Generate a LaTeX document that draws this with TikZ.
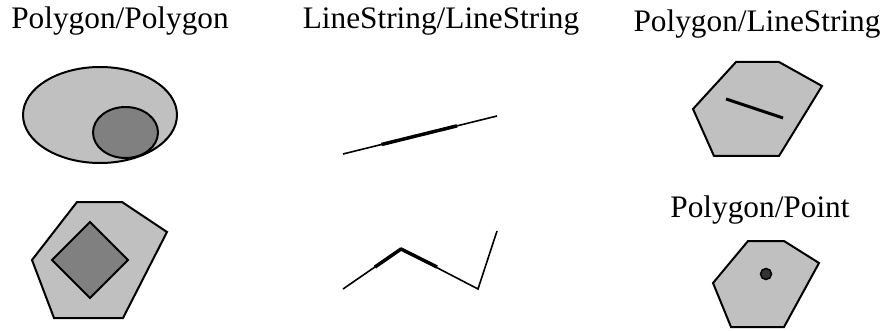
\documentclass[tikz,border=0pt]{standalone}
\usepackage{fontspec}
\setmainfont{Liberation Serif}
\usetikzlibrary{calc}
\definecolor{lightfill}{HTML}{C0C0C0}
\definecolor{darkfill}{HTML}{808080}
\definecolor{pointfill}{HTML}{333333}
\begin{document}
\begin{tikzpicture}[x=1pt,y=-1pt,
  title/.style={anchor=base,inner sep=0pt,font=\fontsize{31.3}{36}\selectfont},
  outer/.style={draw=black,fill=lightfill,line width=2pt,line join=miter},
  inner/.style={draw=black,fill=darkfill,line width=2pt},
  thinline/.style={draw=black,line width=1.6pt,line join=miter},
  thickseg/.style={draw=black,line width=3.5pt},
]
\useasboundingbox (0,0) rectangle (890,331);
% titles
\node[title] (t1) at (120,29) {Polygon/Polygon};
\node[title] (t2) at (441,29) {LineString/LineString};
\node[title] (t3) at (757,32) {Polygon/LineString};
\node[title] (t4) at (760,217) {Polygon/Point};

% Polygon/Polygon: ellipses
\draw[outer] (100,115) ellipse [x radius=77, y radius=48];
\draw[inner] (125.5,132.5) ellipse [x radius=32.5, y radius=25.5];

% Polygon/Polygon: polygon with diamond
\draw[outer] (77,202) -- (122,202) -- (167,232) -- (123,318) -- (54,318) -- (32,260) -- cycle;
\draw[inner] (90,222) -- (128,260) -- (90,298) -- (52,260) -- cycle;

% LineString/LineString: overlapping straight lines
\coordinate (la) at (343,154);
\coordinate (lb) at (497,116);
\draw[thinline] (la) -- (lb);
\draw[thickseg] ($(la)!0.25!(lb)$) -- ($(la)!0.74!(lb)$);

% LineString/LineString: bent lines
\coordinate (ba) at (343,289);
\coordinate (bb) at (401,249);
\coordinate (bc) at (478,289);
\coordinate (bd) at (497,231);
\draw[thinline] (ba) -- (bb) -- (bc) -- (bd);
\draw[thickseg,line join=round] (375,267) -- (bb) -- (437,267);

% Polygon/LineString
\draw[outer] (736,62) -- (779,62) -- (822,86) -- (779,156) -- (714,156) -- (693,109) -- cycle;
\coordinate (pl1) at (726,99);
\coordinate (pl2) at (783,118);
\draw[black,line width=3pt] (pl1) -- (pl2);

% Polygon/Point
\draw[outer] (748,241) -- (784,241) -- (819,263) -- (784,327) -- (731,327) -- (713,283) -- cycle;
\node[circle,draw=black,fill=pointfill,line width=1.5pt,minimum size=11pt,inner sep=0pt] (pt) at (766,274) {};
\end{tikzpicture}
\end{document}
